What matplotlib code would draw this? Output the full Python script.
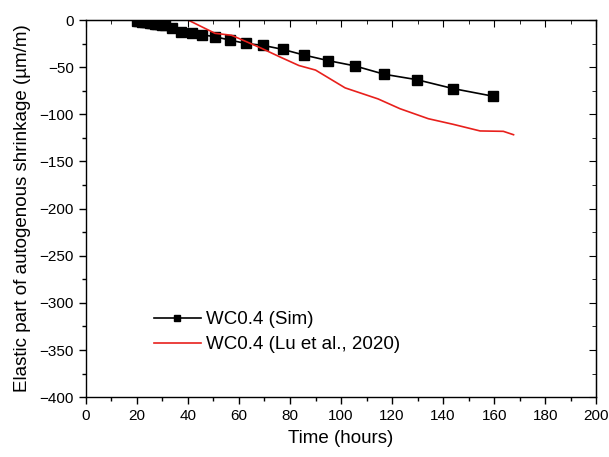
import numpy as np
import matplotlib
matplotlib.use("Agg")
from matplotlib import pyplot as plt
from matplotlib.ticker import MultipleLocator

# simulated elastic shrinkage (black squares)
sim_t = [20, 21, 22, 23, 24, 25, 26, 27, 28, 29, 30, 31, 33.6, 37.3, 41.4, 45.7,
         50.7, 56.5, 62.6, 69.4, 77.1, 85.4, 95, 105.3, 117, 129.7, 144, 159.5]
sim_v = [-0.5, -1, -1.5, -2, -2.5, -3, -3.3, -3.7, -4, -4.5, -5, -5.5, -8.8, -12.4,
         -13.8, -15.6, -17.7, -21.2, -24.7, -26.8, -31, -37, -43, -48.5, -57.5,
         -63.2, -72.7, -80.7]

# experiment (red line)
exp_t = [40.1, 50.6, 57.1, 63, 68.9, 76, 83.5, 90, 101.6, 114.5, 123.1, 134.2,
         144, 154.5, 163.6, 167.6]
exp_v = [0, -14, -16.1, -23, -30, -39, -48.2, -53, -71.9, -83.6, -94, -104.6,
         -110.6, -117.6, -118, -121.6]

plt.rcParams['font.family'] = ['Liberation Sans', 'DejaVu Sans']

fig = plt.figure(figsize=(6.09, 4.57), dpi=100)
ax = fig.add_axes([0.141, 0.131, 0.838, 0.825])

ax.plot(sim_t, sim_v, color='black', lw=1.2, marker='s', ms=6.5, label='WC0.4 (Sim)')
ax.plot(exp_t, exp_v, color='#e8201c', lw=1.2, label='WC0.4 (Lu et al., 2020)')

ax.set_xlim(0, 200)
ax.set_ylim(-400, 0)
ax.xaxis.set_major_locator(MultipleLocator(20))
ax.xaxis.set_minor_locator(MultipleLocator(10))
ax.yaxis.set_major_locator(MultipleLocator(50))
ax.yaxis.set_minor_locator(MultipleLocator(25))

ax.tick_params(which='both', direction='out', top=False, right=False, labelsize=11, width=1)
ax.tick_params(which='major', length=5)
ax.tick_params(which='minor', length=3)

# mirrored inward ticks on top and right
for side in ['top', 'right']:
    sec = ax.secondary_xaxis('top') if side == 'top' else ax.secondary_yaxis('right')
    axis = sec.xaxis if side == 'top' else sec.yaxis
    if side == 'top':
        axis.set_major_locator(MultipleLocator(20))
        axis.set_minor_locator(MultipleLocator(10))
    else:
        axis.set_major_locator(MultipleLocator(50))
        axis.set_minor_locator(MultipleLocator(25))
    sec.tick_params(which='both', direction='in', labelleft=False, labelright=False,
                    labeltop=False, labelbottom=False)
    sec.tick_params(which='major', length=5)
    sec.tick_params(which='minor', length=3)

for s in ax.spines.values():
    s.set_linewidth(1)

ax.set_xlabel('Time (hours)', fontsize=13.5, labelpad=5)
ax.set_ylabel('Elastic part of autogenous shrinkage (µm/m)', fontsize=13.5, labelpad=6)

ax.legend(loc='lower left', bbox_to_anchor=(0.1, 0.072), frameon=False, fontsize=13.5,
          handlelength=2.5, markerscale=0.65, handletextpad=0.3, labelspacing=0.4)

fig.savefig('out.png', dpi=100)
